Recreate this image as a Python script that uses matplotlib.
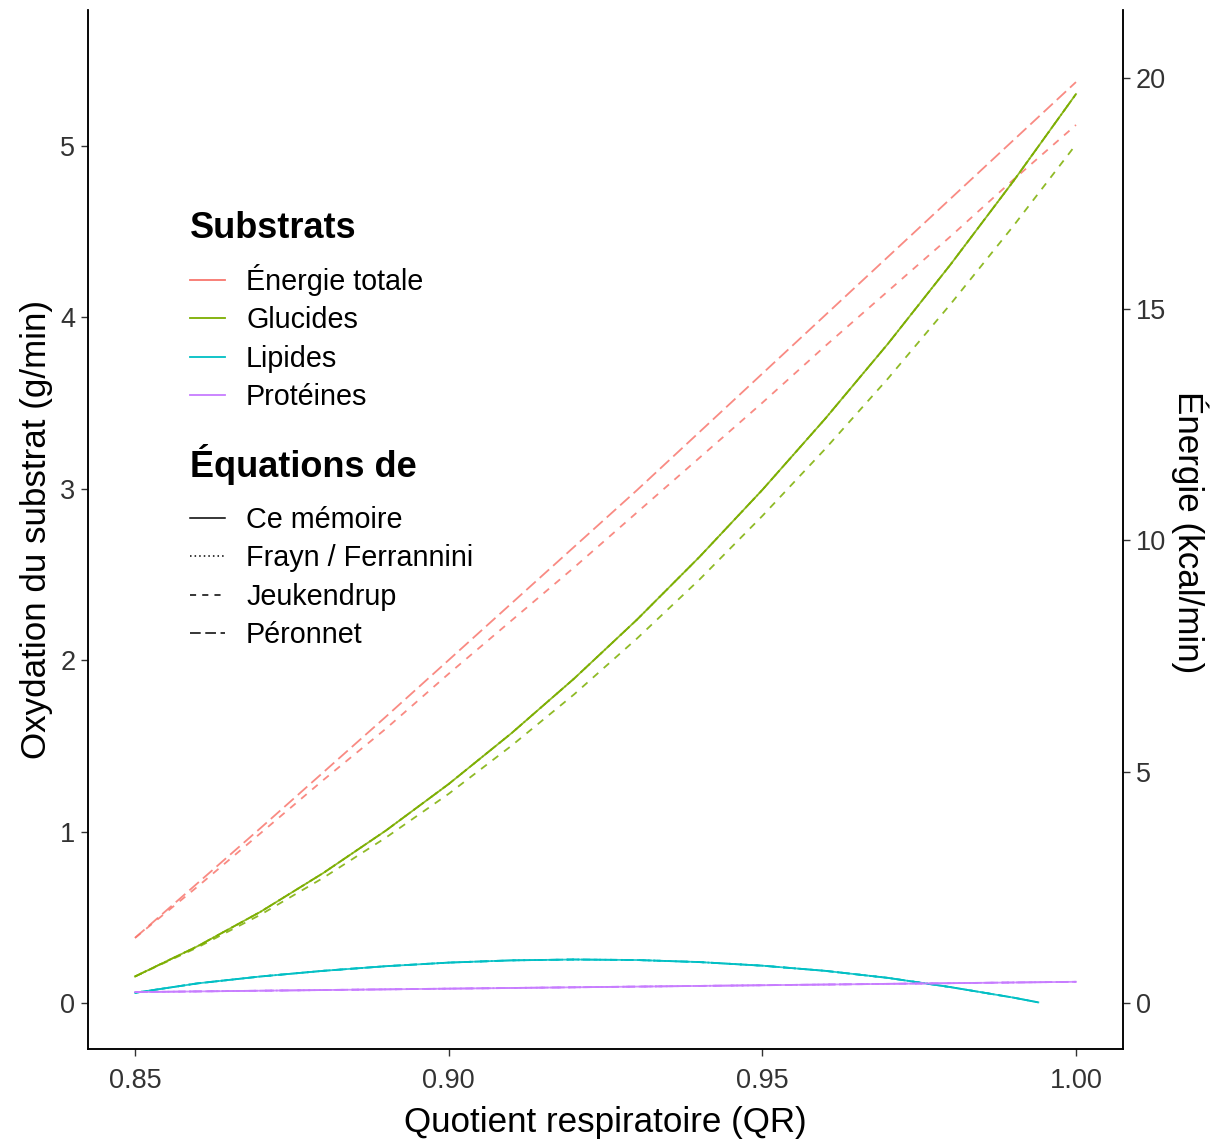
import matplotlib.pyplot as plt
from matplotlib.lines import Line2D

plt.rcParams['font.family'] = ['Liberation Sans', 'DejaVu Sans']

# QR grid (0.01 steps)
qr = [0.85, 0.86, 0.87, 0.88, 0.89, 0.90, 0.91, 0.92,
      0.93, 0.94, 0.95, 0.96, 0.97, 0.98, 0.99, 1.00]

# Énergie totale (g/min scale, right axis = x 3.7)
energie_peronnet = [0.38, 0.70, 1.02, 1.345, 1.67, 2.00, 2.33, 2.66,
                    2.99, 3.33, 3.67, 4.01, 4.35, 4.69, 5.03, 5.37]
energie_jeukendrup = [0.38, 0.68, 0.99, 1.30, 1.60, 1.92, 2.23, 2.54,
                      2.86, 3.18, 3.50, 3.83, 4.15, 4.47, 4.80, 5.12]

# Glucides
glucides_memoire = [0.155, 0.332, 0.532, 0.758, 1.006, 1.277, 1.573, 1.892,
                    2.235, 2.602, 2.992, 3.406, 3.843, 4.306, 4.791, 5.30]
glucides_jeukendrup = [0.155, 0.325, 0.515, 0.730, 0.965, 1.220, 1.500, 1.800,
                       2.125, 2.470, 2.840, 3.230, 3.640, 4.075, 4.530, 5.006]

# Lipides (line stops where it reaches 0)
qr_lipides = [0.85, 0.86, 0.87, 0.88, 0.89, 0.90, 0.91, 0.92,
              0.93, 0.94, 0.95, 0.96, 0.97, 0.98, 0.99, 0.994]
lipides = [0.060, 0.115, 0.155, 0.188, 0.215, 0.236, 0.249, 0.254,
           0.251, 0.239, 0.218, 0.188, 0.147, 0.093, 0.032, 0.004]

# Protéines
qr_proteines = [0.85, 0.90, 0.95, 1.00]
proteines = [0.064, 0.084, 0.104, 0.124]

substrats = ['Énergie totale', 'Glucides', 'Lipides', 'Protéines']
couleurs = ['#F8766D', '#7CAE00', '#00BFC4', '#C77CFF']
equations = ['Ce mémoire', 'Frayn / Ferrannini', 'Jeukendrup', 'Péronnet']
styles = ['-', (0, (1, 2)), (0, (4, 4)), (0, (7, 3))]

fig = plt.figure(figsize=(12.2, 11.41), dpi=100)
ax = fig.add_axes([0.0721, 0.0806, 0.8484, 0.9106])
lw = 1.3
a = 0.85

# énergie
ax.plot(qr, energie_peronnet, color=couleurs[0], ls=styles[3], lw=lw, alpha=a)
ax.plot(qr, energie_jeukendrup, color=couleurs[0], ls=styles[2], lw=lw, alpha=a)
# glucides
ax.plot(qr, glucides_memoire, color=couleurs[1], ls=styles[0], lw=lw, alpha=a)
ax.plot(qr, glucides_memoire, color=couleurs[1], ls=styles[1], lw=lw, alpha=a)
ax.plot(qr, glucides_memoire, color=couleurs[1], ls=styles[3], lw=lw, alpha=a)
ax.plot(qr, glucides_jeukendrup, color=couleurs[1], ls=styles[2], lw=lw, alpha=a)
# lipides
for s in styles:
    ax.plot(qr_lipides, lipides, color=couleurs[2], ls=s, lw=lw, alpha=a)
# protéines
for s in styles:
    ax.plot(qr_proteines, proteines, color=couleurs[3], ls=s, lw=lw, alpha=a)

ax.set_xlim(0.8425, 1.0075)
ax.set_ylim(-0.268, 5.79)
ax.set_xticks([0.85, 0.90, 0.95, 1.00])
ax.set_xticklabels(['0.85', '0.90', '0.95', '1.00'])
ax.set_yticks([0, 1, 2, 3, 4, 5])

ax2 = ax.twinx()
ax2.set_ylim(-0.268 * 3.706, 5.79 * 3.706)
ax2.set_yticks([0, 5, 10, 15, 20])

for axe in (ax, ax2):
    axe.spines['top'].set_visible(False)
    for sp in axe.spines.values():
        sp.set_linewidth(1.1)
    axe.tick_params(length=5, width=1, color='#333333', labelsize=19.5,
                    labelcolor='#333333', pad=4)
ax.tick_params(axis='x', pad=9)

ax.set_xlabel('Quotient respiratoire (QR)', fontsize=25.2, labelpad=8)
ax.set_ylabel('Oxydation du substrat (g/min)', fontsize=25.2, labelpad=5)
fig.text(1190 / 1220, 1 - 532 / 1141, 'Énergie (kcal/min)', rotation=-90,
         ha='center', va='center', fontsize=25.2)

# légendes
fig.text(190 / 1220, 1 - 238 / 1141, 'Substrats', fontsize=26, weight='bold',
         va='baseline', ha='left')
fig.text(190 / 1220, 1 - 477 / 1141, 'Équations de', fontsize=26, weight='bold',
         va='baseline', ha='left')

h1 = [Line2D([], [], color=c, lw=1.3) for c in couleurs]
leg1 = ax2.legend(h1, substrats, loc='upper left',
                  bbox_to_anchor=(190 / 1220, 1 - 264 / 1141),
                  bbox_transform=fig.transFigure, frameon=False, fontsize=20.7,
                  handlelength=1.2, handletextpad=0.75, labelspacing=0.36,
                  borderpad=0, borderaxespad=0)
ax2.add_artist(leg1)

h2 = [Line2D([], [], color='black', lw=1.1, ls=s) for s in styles]
ax2.legend(h2, equations, loc='upper left',
           bbox_to_anchor=(190 / 1220, 1 - 506 / 1141),
           bbox_transform=fig.transFigure, frameon=False, fontsize=20.7,
           handlelength=1.2, handletextpad=0.75, labelspacing=0.36,
           borderpad=0, borderaxespad=0)

fig.savefig('out.png', dpi=100)
